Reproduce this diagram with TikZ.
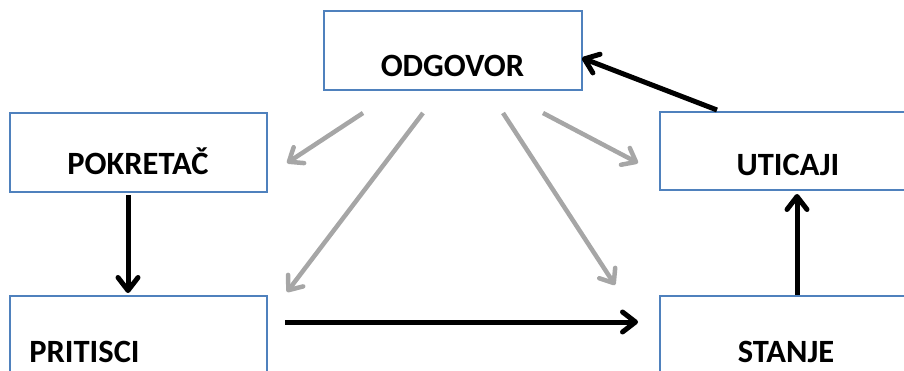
\documentclass[tikz,border=0pt]{standalone}
\usepackage{fontspec}
\setmainfont{Carlito}
\usetikzlibrary{arrows.meta}
\definecolor{boxblue}{HTML}{4F81BD}
\definecolor{arrgray}{HTML}{A6A6A6}
\begin{document}
\begin{tikzpicture}[x=1pt,y=-1pt,
  box/.style={draw=boxblue, line width=1.8pt, fill=white, inner sep=0pt, anchor=north west},
  lab/.style={font=\bfseries\fontsize{32.5}{38}\selectfont, anchor=base, inner sep=0pt},
  blackarr/.style={draw=black, line width=5pt, -{Straight Barb[length=13pt,width=20pt,round]}},
  grayarr/.style={draw=arrgray, line width=4.5pt, -{Straight Barb[length=12pt,width=19pt,round]}}]
\path[use as bounding box] (0,0) rectangle (904,371);
\clip (0,0) rectangle (904,371);
% boxes
\node[box, minimum width=258pt, minimum height=79pt] (odg) at (323,10) {};
\node[box, minimum width=257pt, minimum height=79pt] (pok) at (9,112) {};
\node[box, minimum width=260pt, minimum height=78pt] (uti) at (659,111) {};
\node[box, minimum width=257pt, minimum height=90pt] (pri) at (9,295) {};
\node[box, minimum width=260pt, minimum height=90pt] (sta) at (659,295) {};
% labels
\node[lab] (todg) at (452.5,77) {ODGOVOR};
\node[lab] (tpok) at (138,175) {POKRETAČ};
\node[lab] (tuti) at (788,176) {UTICAJI};
\node[lab] (tpri) at (84.5,362) {PRITISCI};
\node[lab] (tsta) at (786,362) {STANJE};
% connector end points
\coordinate (pokout) at (128,195);
\coordinate (priin) at (128,293);
\coordinate (priout) at (285,322);
\coordinate (stain) at (638,322);
\coordinate (staout) at (797,295);
\coordinate (utiin) at (797,194);
\coordinate (utiout) at (717,110);
\coordinate (odgin) at (582,58);
\coordinate (g1s) at (363,113);
\coordinate (g1e) at (287,163);
\coordinate (g2s) at (423,113);
\coordinate (g2e) at (287,292);
\coordinate (g3s) at (503,113);
\coordinate (g3e) at (615,285);
\coordinate (g4s) at (543,113);
\coordinate (g4e) at (638,163);
% black arrows
\draw[blackarr] (pokout) -- (priin);
\draw[blackarr] (priout) -- (stain);
\draw[blackarr] (staout) -- (utiin);
\draw[blackarr] (utiout) -- (odgin);
% gray arrows
\draw[grayarr] (g1s) -- (g1e);
\draw[grayarr] (g2s) -- (g2e);
\draw[grayarr] (g3s) -- (g3e);
\draw[grayarr] (g4s) -- (g4e);
\end{tikzpicture}
\end{document}
